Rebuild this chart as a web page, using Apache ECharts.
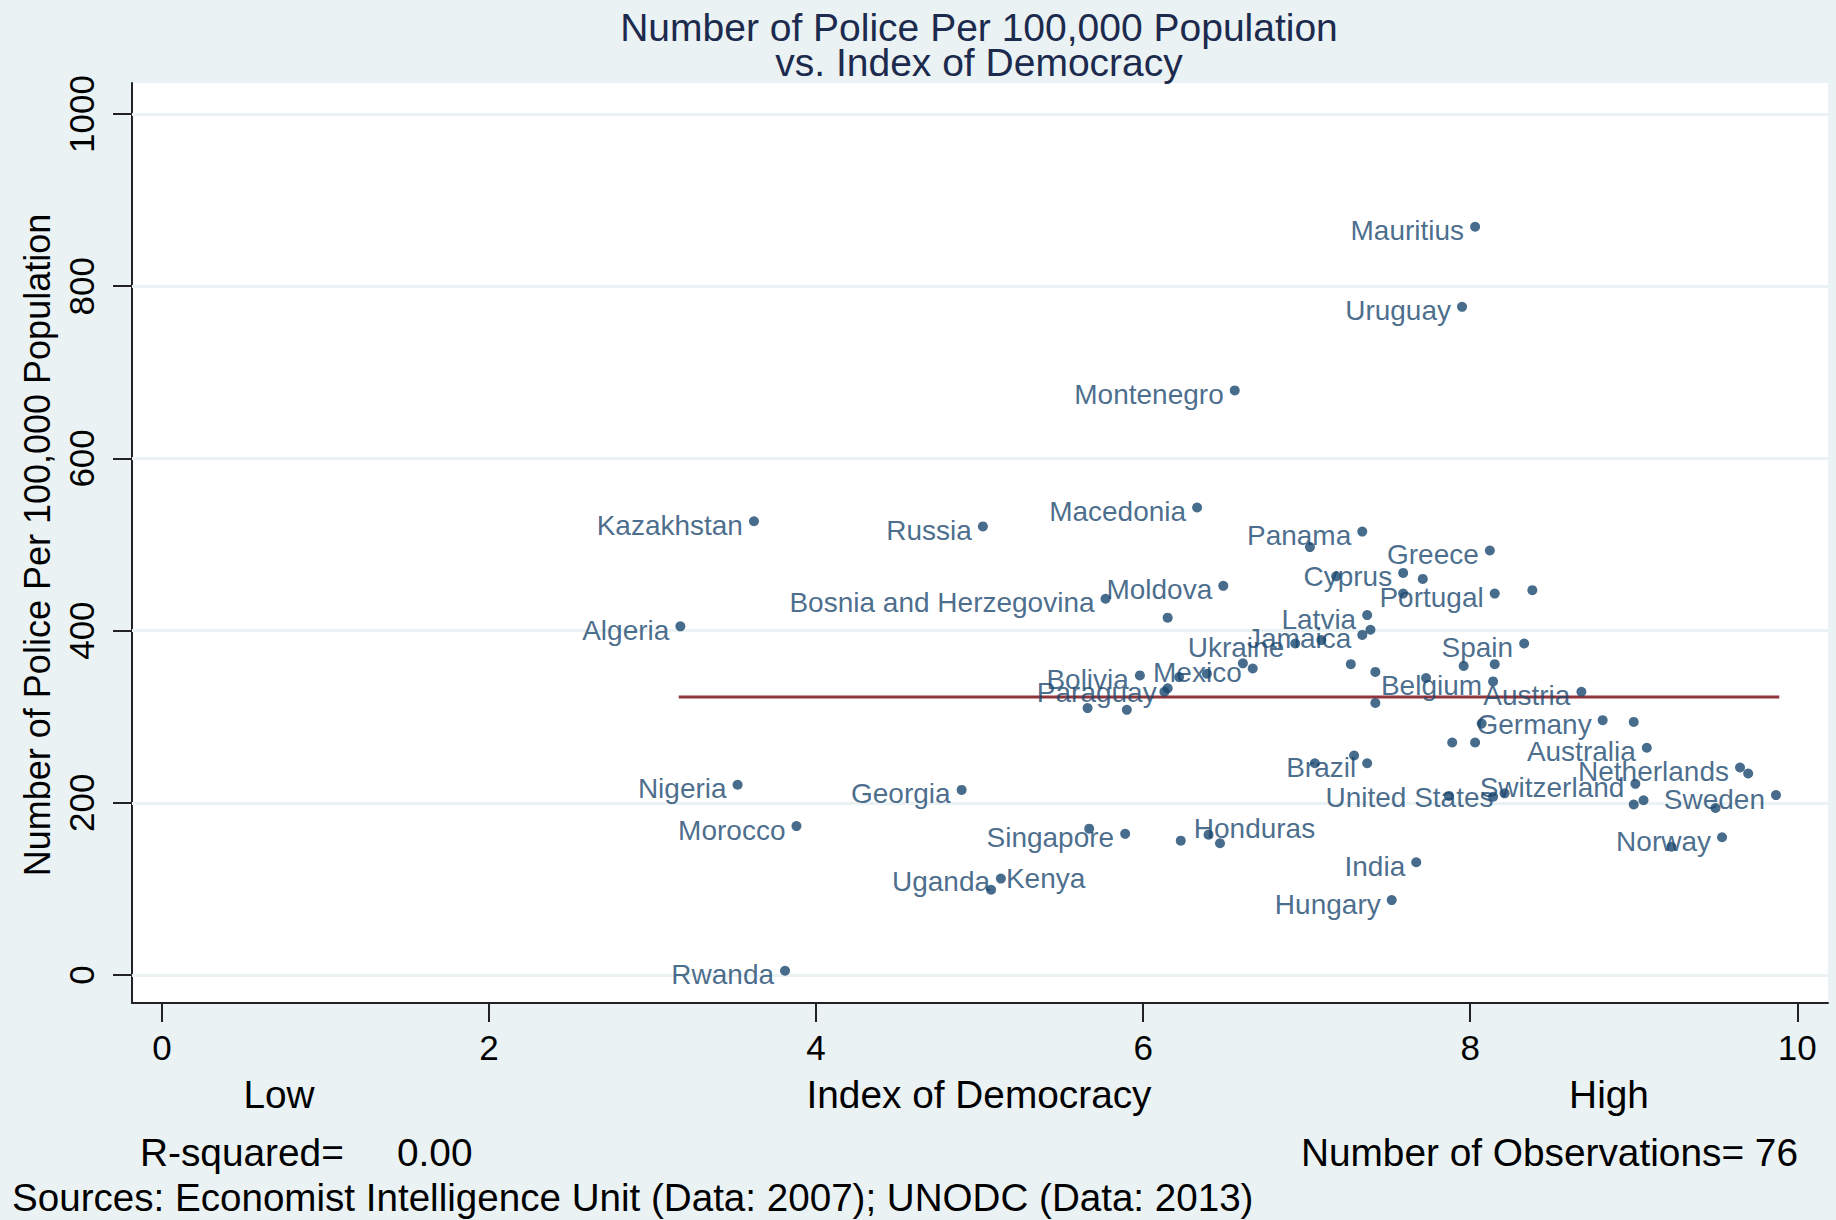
<!DOCTYPE html>
<html>
<head>
<meta charset="utf-8">
<script src="https://cdn.jsdelivr.net/npm/echarts@6/dist/echarts.min.js"></script>
<style>
html,body{margin:0;padding:0;background:#eaf2f3;}
#c{width:1836px;height:1220px;}
</style>
</head>
<body>
<div id="c"></div>
<script>
// ---- data ----
const countries = [
  'Mauritius','Uruguay','Montenegro','Kazakhstan','Russia','Macedonia','Panama','','Greece','Cyprus',
  '','','Portugal','','','Bosnia and Herzegovina','Moldova','','Algeria','Latvia',
  '','Jamaica','','Ukraine','','Mexico','','','','',
  'Bolivia','Paraguay','','','','Spain','','','','Belgium',
  'Austria','','','Germany','','','','Australia','','Brazil',
  '','Netherlands','','Switzerland','','United States','','','','Sweden',
  '','Norway','','','','Honduras','Singapore','','India','Hungary',
  'Nigeria','Georgia','Morocco','Kenya','Uganda','Rwanda'
];
const democracy = [
  8.03,7.95,6.56,3.62,5.02,6.33,7.34,7.02,8.12,7.59,
  7.71,7.18,8.15,7.59,8.38,5.77,6.49,6.15,3.17,7.37,
  7.39,7.34,7.09,6.93,6.61,6.67,7.27,7.42,6.39,6.22,
  5.98,6.15,6.13,5.66,5.90,8.33,7.96,8.15,7.73,8.14,
  8.68,7.42,8.07,8.81,9.00,7.89,8.03,9.08,7.29,7.37,
  7.05,9.65,9.70,9.01,8.14,8.21,7.87,9.00,9.06,9.87,
  9.50,9.54,9.23,6.40,6.47,6.23,5.89,5.67,7.67,7.52,
  3.52,4.89,3.88,5.13,5.07,3.81
];
const police = [
  869,776,679,527,521,543,515,497,493,467,
  460,463,443,443,447,437,452,415,405,418,
  401,395,389,385,362,356,361,352,350,346,
  348,333,329,310,308,385,359,361,345,341,
  329,316,292,296,294,270,270,264,255,246,
  246,241,234,222,207,211,208,198,203,209,
  194,160,149,163,153,156,164,170,131,87,
  221,215,173,112,99,5
];
const xTicks = [0,2,4,6,8,10];
const yTicks = [0,200,400,600,800,1000];
const fitX = [3.16, 9.89];
const fitY = [323, 323];

// ---- styling ----
const FONT = '"Liberation Sans", Arial, Helvetica, sans-serif';
const NAVY = '#1a476f';
const BG = '#eaf2f3';
const labelOverrides = {
  'Kenya':    {position: [10, 5], align: 'left'},
  'Honduras': {position: [18, -7], align: 'left'},
  'Uganda':   {position: [4, -3], align: 'right'}
};

const chart = echarts.init(document.getElementById('c'), null, {renderer:'svg', width:1836, height:1220});

const pts = countries.map((n, i) => {
  const item = {name: n, value: [democracy[i], police[i]]};
  if (labelOverrides[n]) item.label = labelOverrides[n];
  return item;
});

function txt(text, x, y, size, opts) {
  return Object.assign({
    type: 'text', x: x, y: y, silent: true, z: 20,
    style: Object.assign({
      text: text, fill: '#000', font: size + 'px ' + FONT,
      textAlign: 'center', textVerticalAlign: 'middle'
    }, (opts && opts.style) || {})
  }, (opts && opts.el) || {});
}

chart.setOption({
  backgroundColor: BG,
  animation: false,
  grid: {left: 132, top: 83, right: 8, bottom: 217, show: true, backgroundColor: '#ffffff', borderWidth: 0},
  xAxis: {
    type: 'value', min: -0.1834, max: 10.188,
    axisLine: {show: true, onZero: false, lineStyle: {color: '#222', width: 2}},
    axisTick: {show: true, customValues: xTicks, length: 19, lineStyle: {color: '#222', width: 2}},
    axisLabel: {customValues: xTicks, margin: 27, fontSize: 35, color: '#000', fontFamily: FONT,
                formatter: v => String(v)},
    splitLine: {show: false}
  },
  yAxis: {
    type: 'value', min: -32.5, max: 1036,
    axisLine: {show: true, onZero: false, lineStyle: {color: '#222', width: 2}},
    axisTick: {show: true, customValues: yTicks, length: 19, lineStyle: {color: '#222', width: 2}},
    axisLabel: {customValues: yTicks, margin: 33, rotate: 90, fontSize: 35, color: '#000', fontFamily: FONT,
                formatter: v => String(v)},
    splitLine: {show: false}
  },
  series: [
    {
      type: 'line', data: [], z: 1, silent: true,
      markLine: {
        silent: true, symbol: 'none', label: {show: false}, z: 1,
        lineStyle: {color: BG, width: 3, type: 'solid'},
        data: yTicks.map(v => ({yAxis: v}))
      }
    },
    {
      type: 'line', z: 3, silent: true, showSymbol: false, symbol: 'none',
      lineStyle: {color: '#90353b', width: 3},
      data: fitX.map((x, i) => [x, fitY[i]])
    },
    {
      type: 'scatter', z: 10, symbolSize: 10,
      itemStyle: {color: NAVY},
      label: {
        show: true, formatter: '{b}', position: [-6, 9], align: 'right', verticalAlign: 'middle',
        color: NAVY, fontSize: 28, fontFamily: FONT
      },
      labelLayout: {hideOverlap: false},
      data: pts
    }
  ],
  graphic: [
    txt('Number of Police Per 100,000 Population', 979, 27, 39, {style: {fill: '#1c2a4e'}}),
    txt('vs. Index of Democracy', 979, 62, 39, {style: {fill: '#1c2a4e'}}),
    txt('Number of Police Per 100,000 Population', 37, 545, 36, {el: {rotation: Math.PI / 2}}),
    txt('Low', 279, 1094, 38.8),
    txt('Index of Democracy', 979, 1094, 38.8),
    txt('High', 1609, 1094, 38.8),
    txt('R-squared=', 140, 1152, 38.8, {style: {textAlign: 'left'}}),
    txt('0.00', 397, 1152, 38.8, {style: {textAlign: 'left'}}),
    txt('Number of Observations= 76', 1798, 1152, 38.8, {style: {textAlign: 'right'}}),
    txt('Sources: Economist Intelligence Unit (Data: 2007); UNODC (Data: 2013)', 12, 1197, 38.6, {style: {textAlign: 'left'}})
  ]
});
</script>
</body>
</html>
